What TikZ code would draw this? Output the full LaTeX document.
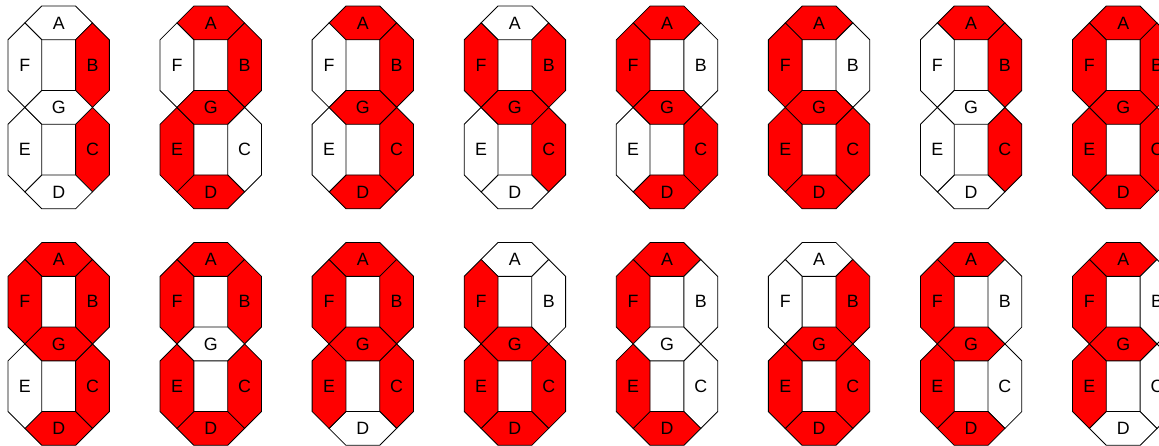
\documentclass[tikz,border=0pt]{standalone}
\usepackage{fontspec}
\setmainfont{Liberation Sans}
\begin{document}
\begin{tikzpicture}[x=1cm, y=-1cm,
  seg/.style={draw=black, line width=0.7pt, line join=miter},
  lbl/.style={font=\fontsize{15}{18}\selectfont, inner sep=0pt}]
\useasboundingbox (-0.237,-0.178) rectangle (34.06,13.0);
% Each digit: offset, then fill of segments A, B, C, D, E, F, G
\foreach \px/\py/\a/\b/\c/\d/\e/\f/\g [count=\n] in {
  0/0/white/red/red/white/white/white/white,
  4.5/0/red/red/white/red/red/white/red,
  9/0/red/red/red/red/white/white/red,
  13.5/0/white/red/red/white/white/red/red,
  18/0/red/white/red/red/white/red/red,
  22.5/0/red/white/red/red/red/red/red,
  27/0/red/red/red/white/white/white/white,
  31.5/0/red/red/red/red/red/red/red,
  0/7/red/red/red/red/white/red/red,
  4.5/7/red/red/red/red/red/red/white,
  9/7/red/red/red/white/red/red/red,
  13.5/7/white/white/red/red/red/red/red,
  18/7/red/white/white/red/red/red/white,
  22.5/7/white/red/red/red/red/white/red,
  27/7/red/white/white/red/red/red/red,
  31.5/7/red/white/white/white/red/red/red} {
\begin{scope}[shift={(\px,\py)}]
% Segments
\filldraw[seg, fill=\a] (1,0) -- (2,0) -- (2.5,0.5) -- (2,1) -- (1,1) -- (0.5,0.5) -- cycle;
\filldraw[seg, fill=\b] (2.5,0.5) -- (3,1) -- (3,2.5) -- (2.5,3) -- (2,2.5) -- (2,1) -- cycle;
\filldraw[seg, fill=\c] (2.5,3) -- (3,3.5) -- (3,5) -- (2.5,5.5) -- (2,5) -- (2,3.5) -- cycle;
\filldraw[seg, fill=\d] (0.5,5.5) -- (1,5) -- (2,5) -- (2.5,5.5) -- (2,6) -- (1,6) -- cycle;
\filldraw[seg, fill=\e] (0.5,3) -- (1,3.5) -- (1,5) -- (0.5,5.5) -- (0,5) -- (0,3.5) -- cycle;
\filldraw[seg, fill=\f] (0.5,0.5) -- (1,1) -- (1,2.5) -- (0.5,3) -- (0,2.5) -- (0,1) -- cycle;
\filldraw[seg, fill=\g] (0.5,3) -- (1,2.5) -- (2,2.5) -- (2.5,3) -- (2,3.5) -- (1,3.5) -- cycle;
% Labels
\node[lbl] (A\n) at (1.5,0.5) {A};
\node[lbl] (B\n) at (2.5,1.75) {B};
\node[lbl] (C\n) at (2.5,4.25) {C};
\node[lbl] (D\n) at (1.5,5.5) {D};
\node[lbl] (E\n) at (0.5,4.25) {E};
\node[lbl] (F\n) at (0.5,1.75) {F};
\node[lbl] (G\n) at (1.5,3) {G};
\end{scope}
}
\end{tikzpicture}
\end{document}
